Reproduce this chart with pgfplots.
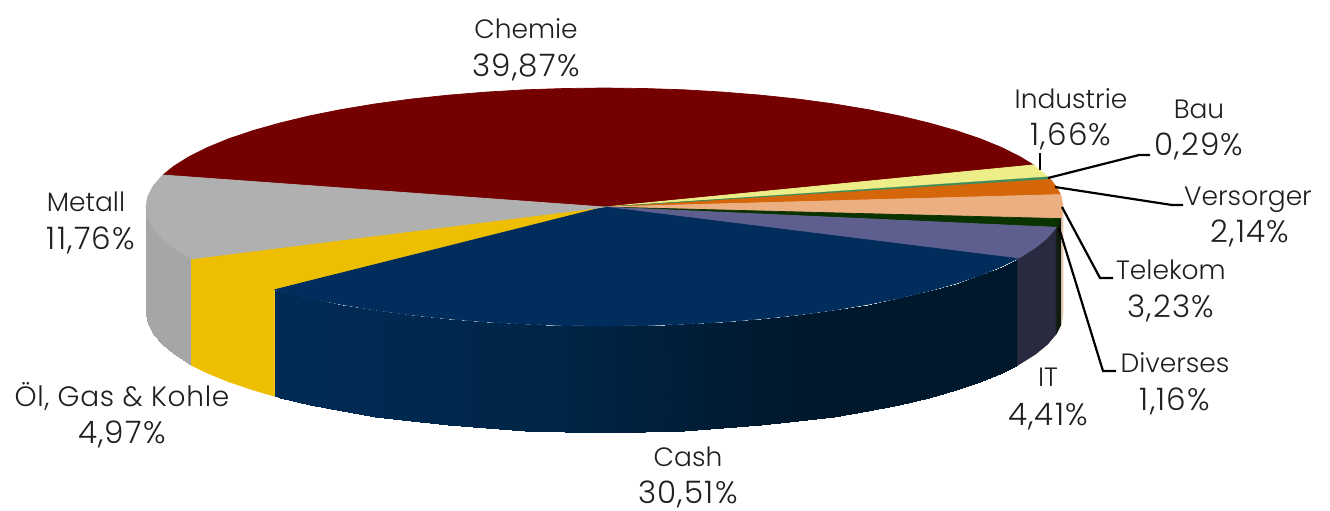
\documentclass[border=0pt]{standalone}
\usepackage{fontspec}
\setmainfont{Poppins Light}
\newfontfamily\numf{Poppins Light}[LetterSpace=4]
\newfontfamily\widef{Poppins Light}[LetterSpace=2.5]
\usepackage{pgfplots}
\pgfplotsset{compat=1.18}
\definecolor{cChem}{HTML}{750000}
\definecolor{cInd}{HTML}{EEEE88}
\definecolor{cBau}{HTML}{3C8C5A}
\definecolor{cVer}{HTML}{D6660A}
\definecolor{cTel}{HTML}{EBAF82}
\definecolor{cTelS}{HTML}{E9CDB6}
\definecolor{cDiv}{HTML}{0A3300}
\definecolor{cDivS}{HTML}{0E1A0E}
\definecolor{cIT}{HTML}{5F5F8F}
\definecolor{cITS}{HTML}{292A40}
\definecolor{cCash}{HTML}{002D5B}
\definecolor{cOel}{HTML}{EEBF00}
\definecolor{cMet}{HTML}{B0B0B0}
\tikzset{
  lbl/.style={font=\fontsize{26.5}{27}\selectfont, anchor=base, text=black!88, inner sep=0pt},
  num/.style={font=\numf\fontsize{31}{31}\selectfont, anchor=base, text=black!88, inner sep=0pt}
}
\pgfplotsset{
  colormap={cashside}{rgb255=(0,45,91) rgb255=(0,42,82) rgb255=(0,36,68) rgb255=(0,24,44) rgb255=(0,24,44)},
  colormap={metside}{rgb255=(166,166,166) rgb255=(176,176,176)},
  lead/.style={black, line width=2.2pt, no marks, line join=miter},
  face/.style={no marks, line width=0.7pt, line join=round}
}
\begin{document}
\begin{tikzpicture}
\useasboundingbox (0,0) rectangle (1330pt,511pt);
\begin{axis}[
  at={(0,0)}, anchor=south west,
  width=1330pt, height=511pt, scale only axis,
  xmin=0, xmax=1330, ymin=0, ymax=511, y dir=reverse,
  axis lines=none, clip=false
]
% side faces
\addplot[surf, shader=interp, colormap name=metside, mesh/rows=2, point meta=x] coordinates {
 (146,207)(147.7,217.4)(153,227.7)(161.6,237.8)(173.7,247.7)(189,257.3)(191.5,258.8)
 (146,313.5)(147.7,323.9)(153,334.2)(161.6,344.3)(173.7,354.2)(189,363.8)(191.5,365.3)};
\addplot[face, draw=cOel, fill=cOel] coordinates {
 (191.5,258.8)(207.4,266.5)(228.9,275.3)(253.3,283.5)(274.7,289.7)
 (274.7,396.2)(253.3,390)(228.9,381.8)(207.4,373)(191.5,365.3)} --cycle;
\addplot[surf, shader=interp, colormap name=cashside, mesh/rows=2, point meta=x] coordinates {
 (274.7,289.7)(280.3,291.1)(309.8,298.2)(341.5,304.5)(375.2,310.1)(410.7,314.9)(447.7,318.8)(485.8,321.9)(524.9,324.2)(564.5,325.5)(604.5,326)(644.5,325.5)(684.1,324.2)(723.2,321.9)(761.3,318.8)(798.3,314.9)(833.8,310.1)(867.5,304.5)(899.2,298.2)(928.7,291.1)(955.7,283.5)(980.1,275.3)(1001.6,266.5)(1017.6,258.6)
 (274.7,396.2)(280.3,397.6)(309.8,404.7)(341.5,411)(375.2,416.6)(410.7,421.4)(447.7,425.3)(485.8,428.4)(524.9,430.7)(564.5,432)(604.5,432.5)(644.5,432)(684.1,430.7)(723.2,428.4)(761.3,425.3)(798.3,421.4)(833.8,416.6)(867.5,411)(899.2,404.7)(928.7,397.6)(955.7,390)(980.1,381.8)(1001.6,373)(1017.6,365.1)};
\addplot[face, draw=cITS, fill=cITS] coordinates {
 (1017.6,258.6)(1020,257.3)(1035.3,247.7)(1047.4,237.8)(1056.3,227.3)
 (1056.3,333.8)(1047.4,344.3)(1035.3,354.2)(1020,363.8)(1017.6,365.1)} --cycle;
\addplot[face, draw=cTelS, fill=cTelS] coordinates {
 (1060.8,218.6)(1061.3,217.4)(1063,207)(1063,313.5)(1061.3,323.9)(1060.8,325.1)} --cycle;
\addplot[face, draw=cDivS, fill=cDivS] coordinates {
 (1056.3,227.3)(1060.8,218.6)(1060.8,325.1)(1056.3,333.8)} --cycle;
% top faces
\addplot[face, draw=cChem, fill=cChem] coordinates {
 (604.5,207)(1033.4,164.9)(1020,156.7)(1001.6,147.5)(980.1,138.7)(955.7,130.5)(928.7,122.9)(899.2,115.8)(867.5,109.5)(833.8,103.9)(798.3,99.1)(761.3,95.2)(723.2,92.1)(684.1,89.8)(644.5,88.5)(604.5,88)(564.5,88.5)(524.9,89.8)(485.8,92.1)(447.7,95.2)(410.7,99.1)(375.2,103.9)(341.5,109.5)(309.8,115.8)(280.3,122.9)(253.3,130.5)(228.9,138.7)(207.4,147.5)(189,156.7)(173.7,166.3)(162.9,175)} --cycle;
\addplot[face, draw=cInd, fill=cInd] coordinates {
 (604.5,207)(1033.4,164.9)(1035.3,166.3)(1048,176.8)} --cycle;
\addplot[face, draw=cVer, fill=cVer] coordinates {
 (604.5,207)(1050,178.8)(1056,186.3)(1060.5,194.6)} --cycle;
\addplot[no marks, line width=0.2pt, draw=cBau, fill=cBau] coordinates {
 (604.5,207)(1048,176.8)(1050,178.8)} --cycle;
\addplot[face, draw=cTel, fill=cTel] coordinates {
 (604.5,207)(1060.5,194.6)(1061.3,196.6)(1063,207)(1061.3,217.4)(1060.8,218.6)} --cycle;
\addplot[face, draw=cDiv, fill=cDiv] coordinates {
 (604.5,207)(1060.8,218.6)(1056.3,227.3)} --cycle;
\addplot[face, draw=cIT, fill=cIT] coordinates {
 (604.5,207)(1056.3,227.3)(1047.4,237.8)(1035.3,247.7)(1020,257.3)(1017.6,258.6)} --cycle;
\addplot[face, draw=cOel, fill=cOel] coordinates {
 (604.5,207)(191.5,258.8)(207.4,266.5)(228.9,275.3)(253.3,283.5)(274.7,289.7)} --cycle;
\addplot[face, draw=cCash, fill=cCash] coordinates {
 (604.5,207)(274.7,289.7)(280.3,291.1)(309.8,298.2)(341.5,304.5)(375.2,310.1)(410.7,314.9)(447.7,318.8)(485.8,321.9)(524.9,324.2)(564.5,325.5)(604.5,326)(644.5,325.5)(684.1,324.2)(723.2,321.9)(761.3,318.8)(798.3,314.9)(833.8,310.1)(867.5,304.5)(899.2,298.2)(928.7,291.1)(955.7,283.5)(980.1,275.3)(1001.6,266.5)(1017.6,258.6)} --cycle;
\addplot[face, draw=cMet, fill=cMet] coordinates {
 (604.5,207)(162.9,175)(161.6,176.2)(153,186.3)(147.7,196.6)(146,207)(147.7,217.4)(153,227.7)(161.6,237.8)(173.7,247.7)(189,257.3)(191.5,258.8)} --cycle;
% leaders
\addplot[lead] coordinates {(1040,153)(1040,170)};
\addplot[lead] coordinates {(1048,178)(1139,155)(1150,155)};
\addplot[lead] coordinates {(1055,187)(1172,205)(1183,205)};
\addplot[lead] coordinates {(1062,207)(1100,278)(1113,278)};
\addplot[lead] coordinates {(1059,228)(1103,371)(1116,371)};
% labels
\node[lbl] at (axis cs:526,38) {Chemie};
\node[num] at (axis cs:526,76) {39,87\%};
\node[lbl] at (axis cs:1071,108) {Industrie};
\node[num] at (axis cs:1071,145) {1,66\%};
\node[lbl] at (axis cs:1199,118) {Bau};
\node[num] at (axis cs:1199,155) {0,29\%};
\node[lbl] at (axis cs:1248,205) {Versorger};
\node[num] at (axis cs:1250,242) {2,14\%};
\node[lbl] at (axis cs:1171,279) {Telekom};
\node[num] at (axis cs:1171,317) {3,23\%};
\node[lbl] at (axis cs:1175,372) {Diverses};
\node[num] at (axis cs:1175,410) {1,16\%};
\node[lbl] at (axis cs:1048,386) {IT};
\node[num] at (axis cs:1048,425) {4,41\%};
\node[lbl] at (axis cs:688,466) {Cash};
\node[num] at (axis cs:688,503) {30,51\%};
\node[lbl, font=\widef\fontsize{28}{28}\selectfont] at (axis cs:122,406) {Öl, Gas \& Kohle};
\node[num] at (axis cs:122,443) {4,97\%};
\node[lbl] at (axis cs:86,211) {Metall};
\node[num] at (axis cs:91,249) {11,76\%};
\end{axis}
\end{tikzpicture}
\end{document}
